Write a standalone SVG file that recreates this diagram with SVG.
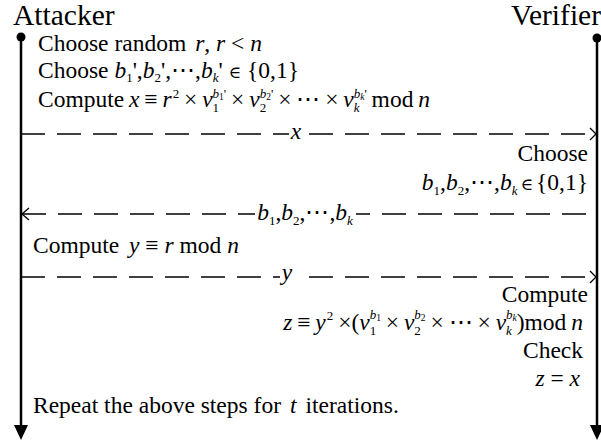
<svg xmlns="http://www.w3.org/2000/svg" width="601" height="442" viewBox="0 0 601 442">
<style>
text { font-family: "Liberation Serif", "Times New Roman", serif; font-size: 23.5px; fill: #000; }
.h { font-size: 29.5px; }
.i { font-style: italic; }
.s { font-size: 13px; }
.ss { font-size: 9.5px; }
.el { font-family: "DejaVu Serif", "Liberation Serif", serif; font-size: 17px; }
.m { word-spacing: -1px; }
.life { stroke: #000; stroke-width: 2.5; fill: none; }
.msg { stroke: #000; stroke-width: 1.5; fill: none; stroke-dasharray: 24 12; }
.head { stroke: #000; stroke-width: 1.3; fill: none; }
</style>

<g id="attacker">
<text class="h" x="13" y="25">Attacker</text>
<circle cx="21" cy="37" r="4.5" fill="#000"/>
<line class="life" x1="21" y1="37" x2="21" y2="426"/>
<path d="M14,425 L28,425 L21,440 Z" fill="#000"/>
</g>

<g id="verifier">
<text class="h" x="601" y="25" text-anchor="end">Verifier</text>
<circle cx="597" cy="38" r="4.5" fill="#000"/>
<line class="life" x1="597" y1="38" x2="597" y2="426"/>
<path d="M590,425 L604,425 L597,440 Z" fill="#000"/>
</g>

<g id="attacker-steps">
<text x="38" y="51">Choose random<tspan class="i" dx="9">r</tspan>, <tspan class="i">r</tspan> &lt; <tspan class="i">n</tspan></text>
<text x="38" y="78">Choose <tspan class="i">b</tspan><tspan class="s" dy="4">1</tspan><tspan dy="-4">',</tspan><tspan class="i">b</tspan><tspan class="s" dy="4">2</tspan><tspan dy="-4">',⋯,</tspan><tspan class="i">b</tspan><tspan class="s i" dy="4">k</tspan><tspan dy="-4">' </tspan><tspan class="el">∈</tspan><tspan> {0,1}</tspan></text>
<text class="m" x="38" y="107">Compute <tspan class="i">x</tspan> ≡ <tspan class="i">r</tspan><tspan class="s" dx="1" dy="-9">2</tspan><tspan dy="9"> × </tspan><tspan class="i">v</tspan><tspan class="s" dy="5">1</tspan><tspan class="s i" dx="-6.5" dy="-14">b</tspan><tspan class="ss" dy="2">1</tspan><tspan class="s" dy="-2">'</tspan><tspan dy="9"> × </tspan><tspan class="i">v</tspan><tspan class="s" dy="5">2</tspan><tspan class="s i" dx="-6.5" dy="-14">b</tspan><tspan class="ss" dy="2">2</tspan><tspan class="s" dy="-2">'</tspan><tspan dy="9"> × ⋯ × </tspan><tspan class="i">v</tspan><tspan class="s i" dy="5">k</tspan><tspan class="s i" dx="-5.8" dy="-14">b</tspan><tspan class="ss i" dy="2">k</tspan><tspan class="s" dy="-2">'</tspan><tspan dy="9"> mod </tspan><tspan class="i">n</tspan></text>
<text x="33" y="253">Compute <tspan class="i" dx="4">y</tspan> ≡ <tspan class="i">r</tspan> mod <tspan class="i">n</tspan></text>
<text x="33" y="413">Repeat the above steps for<tspan class="i" dx="9">t</tspan><tspan dx="9">iterations.</tspan></text>
</g>

<g id="verifier-steps">
<text x="588" y="161" text-anchor="end">Choose</text>
<text x="588" y="190" text-anchor="end"><tspan class="i">b</tspan><tspan class="s" dy="5">1</tspan><tspan dy="-5">,</tspan><tspan class="i">b</tspan><tspan class="s" dy="5">2</tspan><tspan dy="-5">,⋯,</tspan><tspan class="i">b</tspan><tspan class="s i" dy="5">k</tspan><tspan class="el" dx="3" dy="-5">∈</tspan><tspan dx="3">{0,1}</tspan></text>
<text x="588" y="302" text-anchor="end">Compute</text>
<text class="m" x="583" y="330" text-anchor="end"><tspan class="i">z</tspan> ≡ <tspan class="i">y</tspan><tspan class="s" dx="1" dy="-10">2</tspan><tspan dy="10"> ×(</tspan><tspan class="i">v</tspan><tspan class="s" dy="5">1</tspan><tspan class="s i" dx="-6.5" dy="-16">b</tspan><tspan class="ss" dy="2">1</tspan><tspan dy="9"> × </tspan><tspan class="i">v</tspan><tspan class="s" dy="5">2</tspan><tspan class="s i" dx="-6.5" dy="-16">b</tspan><tspan class="ss" dy="2">2</tspan><tspan dy="9"> × ⋯ × </tspan><tspan class="i">v</tspan><tspan class="s i" dy="5">k</tspan><tspan class="s i" dx="-5.8" dy="-16">b</tspan><tspan class="ss i" dy="2">k</tspan><tspan dy="9">)mod </tspan><tspan class="i">n</tspan></text>
<text x="583" y="358" text-anchor="end">Check</text>
<text x="580" y="386" text-anchor="end"><tspan class="i">z</tspan> = <tspan class="i">x</tspan></text>
</g>

<g id="connectors">
<line class="msg" x1="21" y1="134" x2="596" y2="134"/>
<rect x="289" y="124" width="15" height="20" fill="#fff"/>
<text class="i" x="296" y="139" text-anchor="middle">x</text>
<path class="head" d="M590,128 L596,134 L590,140"/>

<line class="msg" x1="22" y1="214" x2="596" y2="214"/>
<rect x="255" y="203" width="101" height="24" fill="#fff"/>
<text x="305" y="220" text-anchor="middle"><tspan class="i">b</tspan><tspan class="s" dy="5">1</tspan><tspan dy="-5">,</tspan><tspan class="i">b</tspan><tspan class="s" dy="5">2</tspan><tspan dy="-5">,⋯,</tspan><tspan class="i">b</tspan><tspan class="s i" dy="5">k</tspan></text>
<path class="head" d="M29,208 L22,214 L29,220"/>

<line class="msg" x1="21" y1="277" x2="596" y2="277"/>
<rect x="280" y="266" width="18" height="22" fill="#fff"/>
<text class="i" x="287" y="280" text-anchor="middle">y</text>
<path class="head" d="M590,271 L596,277 L590,283"/>
</g>
</svg>
